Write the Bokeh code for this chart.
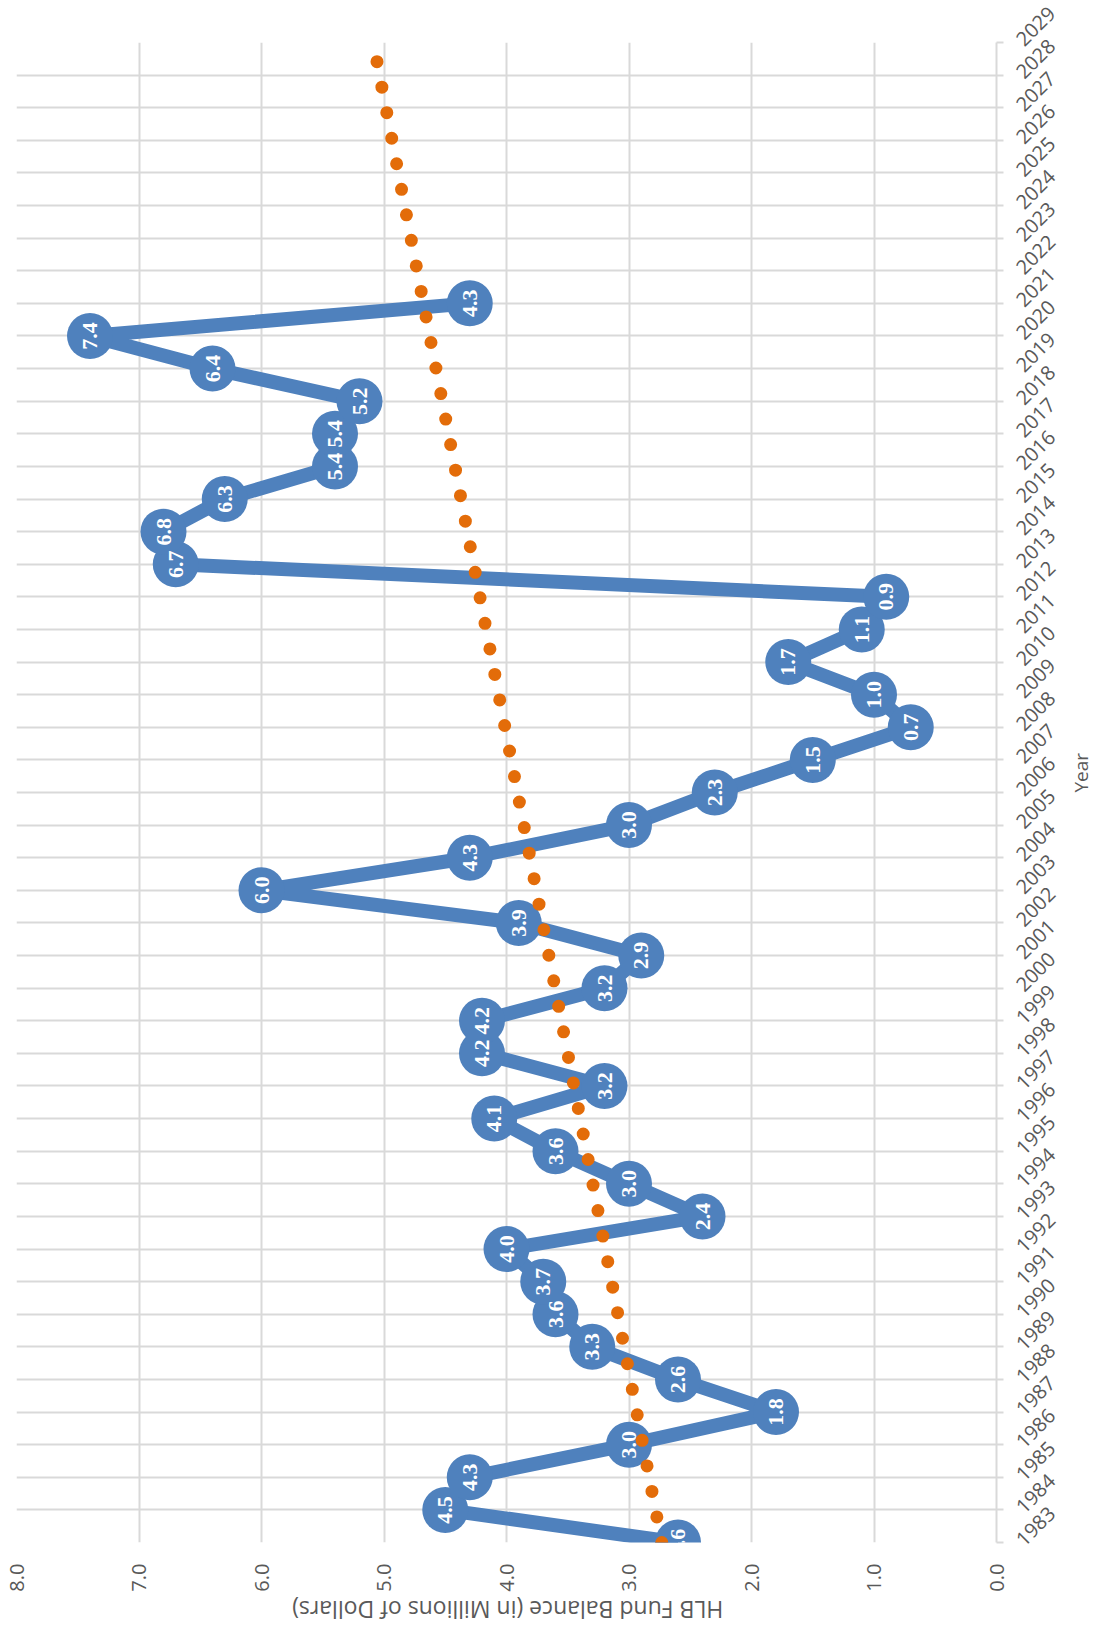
import math
import numpy as np
from bokeh.plotting import figure
from bokeh.models import (Range1d, FixedTicker, PrintfTickFormatter,
                          ColumnDataSource, LinearAxis)
from bokeh.core.properties import value
from bokeh.embed import file_html
from bokeh.resources import INLINE

# ---- data ----
years = list(range(1983, 2022))
balance = [2.6, 4.5, 4.3, 3.0, 1.8, 2.6, 3.3, 3.6, 3.7, 4.0,
           2.4, 3.0, 3.6, 4.1, 3.2, 4.2, 4.2, 3.2, 2.9, 3.9,
           6.0, 4.3, 3.0, 2.3, 1.5, 0.7, 1.0, 1.7, 1.1, 0.9,
           6.7, 6.8, 6.3, 5.4, 5.4, 5.2, 6.4, 7.4, 4.3]
axis_years = list(range(1983, 2030))
value_ticks = [0, 1, 2, 3, 4, 5, 6, 7, 8]
value_title = "HLB Fund Balance (in Millions of Dollars)"
year_title = "Year"

BLUE = "#4F81BD"
ORANGE = "#E36C09"
GRID = "#D9D9D9"
TXT = "#595959"
FONT = "Open Sans"

FW, FH = 980, 1500
TITLE_ANCHOR = 5.75   # where the upside-down value-axis title starts (its end)

# linear trendline (least squares on the series), extended to the last axis year
coef = np.polyfit(years, balance, 1)
trend_years = [axis_years[0], axis_years[-1]]
trend_vals = list(np.polyval(coef, trend_years))

src = ColumnDataSource(dict(year=years, bal=balance,
                            lab=["%.1f" % v for v in balance]))

p = figure(frame_width=FW, frame_height=FH,
           x_range=Range1d(8, 0), y_range=Range1d(1983, 2029),
           y_axis_location="right",
           output_backend="svg", toolbar_location=None,
           min_border_left=16, min_border_right=0,
           min_border_top=42, min_border_bottom=0)
p.outline_line_color = None
p.background_fill_color = "white"

# value axis (bottom)
xa = p.xaxis[0]
xa.ticker = FixedTicker(ticks=value_ticks)
xa.formatter = PrintfTickFormatter(format="%.1f")
xa.major_label_orientation = math.pi / 2
xa.axis_line_color = None
xa.major_tick_line_color = None
xa.major_tick_out = 0
xa.major_tick_in = 0
xa.minor_tick_line_color = None
xa.minor_tick_out = 0
xa.major_label_text_font = FONT
xa.major_label_text_font_size = "20px"
xa.major_label_text_color = TXT
xa.major_label_standoff = 21

# value-axis title, drawn upside down (rotated chart) below the tick labels
ta = LinearAxis(ticker=FixedTicker(ticks=[TITLE_ANCHOR]),
                major_label_overrides={TITLE_ANCHOR: value_title},
                major_label_orientation=math.pi,
                axis_line_color=None, major_tick_line_color=None,
                major_tick_out=0, major_tick_in=0,
                minor_tick_line_color=None, minor_tick_out=0,
                major_label_standoff=15,
                major_label_text_font=FONT,
                major_label_text_font_size="23px",
                major_label_text_color=TXT)
p.add_layout(ta, "below")

# year axis (right)
ya = p.yaxis[0]
ya.ticker = FixedTicker(ticks=axis_years)
ya.major_label_orientation = math.pi / 4
ya.axis_line_color = GRID
ya.axis_line_width = 2
ya.major_tick_line_color = GRID
ya.major_tick_line_width = 2
ya.major_tick_out = 7
ya.major_tick_in = 0
ya.minor_tick_line_color = None
ya.minor_tick_out = 0
ya.major_label_text_font = FONT
ya.major_label_text_font_size = "20px"
ya.major_label_text_color = TXT
ya.major_label_standoff = 16
ya.axis_label = year_title
ya.axis_label_orientation = math.pi / 2
ya.axis_label_text_font = FONT
ya.axis_label_text_font_size = "19px"
ya.axis_label_text_font_style = "normal"
ya.axis_label_text_color = TXT
ya.axis_label_standoff = 16

p.xgrid.ticker = FixedTicker(ticks=value_ticks)
p.ygrid.ticker = FixedTicker(ticks=axis_years)
for g in (p.xgrid[0], p.ygrid[0]):
    g.grid_line_color = GRID
    g.grid_line_width = 2

# series
p.line(x="bal", y="year", source=src, line_color=BLUE, line_width=14,
       line_join="round")
p.scatter(x="bal", y="year", source=src, size=46, fill_color=BLUE,
          line_color=None)
p.text(x="bal", y="year", text="lab", source=src, angle=math.pi / 2,
       text_align="center", text_baseline="middle",
       text_font=value("Liberation Serif"), text_font_style="bold",
       text_font_size="22px", text_color="white")

# trendline
p.line(x=trend_vals, y=trend_years, line_color=ORANGE, line_width=13,
       line_dash="0 26", line_cap="round")

open("out.html", "w").write(file_html(p, INLINE))
